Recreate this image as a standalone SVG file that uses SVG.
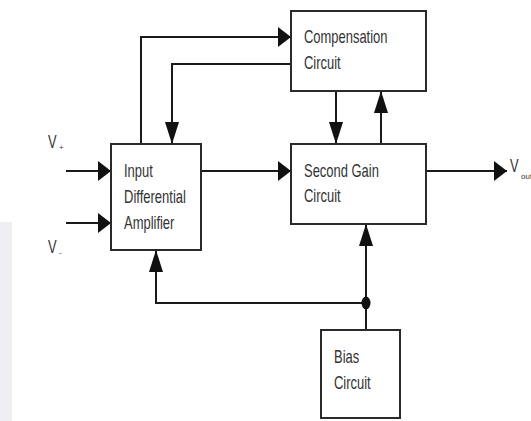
<svg xmlns="http://www.w3.org/2000/svg" width="531" height="421" viewBox="0 0 531 421">
  <style>
    .box { fill: #ffffff; stroke: #2a2a2a; stroke-width: 2; }
    .wire { fill: none; stroke: #1a1a1a; stroke-width: 2; }
    .lbl { font-family: "Liberation Sans", Arial, sans-serif; font-size: 18.5px; fill: #333333; }
    .sub { font-family: "Liberation Sans", Arial, sans-serif; font-size: 8px; fill: #333333; }
  </style>
  <defs>
    <marker id="arrH" viewBox="0 0 13 20" markerWidth="13" markerHeight="20" refX="13" refY="10" orient="auto" markerUnits="userSpaceOnUse">
      <path d="M0 0 L13 10 L0 20 Z" fill="#111"/>
    </marker>
    <marker id="arrV" viewBox="0 0 22 14" markerWidth="22" markerHeight="14" refX="22" refY="7" orient="auto" markerUnits="userSpaceOnUse">
      <path d="M0 0 L22 7 L0 14 Z" fill="#111"/>
    </marker>
  </defs>
  <rect width="531" height="421" fill="#ffffff"/>
  <rect x="0" y="222" width="12" height="199" fill="#eeeef3"/>

  <g id="connectors">
    <path class="wire" d="M141 144 V37 H291" marker-end="url(#arrH)"/>
    <path class="wire" d="M291 64 H172 V144" marker-end="url(#arrV)"/>
    <path class="wire" d="M336 91 V144" marker-end="url(#arrV)"/>
    <path class="wire" d="M381 144 V91" marker-end="url(#arrV)"/>
    <path class="wire" d="M201 171 H291" marker-end="url(#arrH)"/>
    <path class="wire" d="M66 171 H111" marker-end="url(#arrH)"/>
    <path class="wire" d="M66 223 H111" marker-end="url(#arrH)"/>
    <path class="wire" d="M426 171 H507" marker-end="url(#arrH)"/>
    <path class="wire" d="M366 330 V224" marker-end="url(#arrV)"/>
    <path class="wire" d="M366 303 H156 V250" marker-end="url(#arrV)"/>
    <ellipse cx="366" cy="303" rx="4.5" ry="6.5" fill="#111"/>
  </g>

  <g id="compensation">
    <rect class="box" x="291" y="11" width="135" height="80"/>
    <text class="lbl" x="304" y="43" textLength="83.5" lengthAdjust="spacingAndGlyphs">Compensation</text>
    <text class="lbl" x="304" y="69" textLength="36.7" lengthAdjust="spacingAndGlyphs">Circuit</text>
  </g>

  <g id="input">
    <rect class="box" x="111" y="144" width="90" height="106"/>
    <text class="lbl" x="124" y="177" textLength="28.8" lengthAdjust="spacingAndGlyphs">Input</text>
    <text class="lbl" x="124" y="203" textLength="61.9" lengthAdjust="spacingAndGlyphs">Differential</text>
    <text class="lbl" x="124" y="229" textLength="50.4" lengthAdjust="spacingAndGlyphs">Amplifier</text>
  </g>

  <g id="second">
    <rect class="box" x="291" y="144" width="135" height="80"/>
    <text class="lbl" x="304" y="177" textLength="74.9" lengthAdjust="spacingAndGlyphs">Second Gain</text>
    <text class="lbl" x="304" y="202" textLength="36.7" lengthAdjust="spacingAndGlyphs">Circuit</text>
  </g>

  <g id="bias">
    <rect class="box" x="321" y="330" width="79" height="88"/>
    <text class="lbl" x="334" y="363" textLength="25.2" lengthAdjust="spacingAndGlyphs">Bias</text>
    <text class="lbl" x="334" y="389" textLength="36.7" lengthAdjust="spacingAndGlyphs">Circuit</text>
  </g>

  <g id="vplus">
    <text class="lbl" x="48" y="148" textLength="8.6" lengthAdjust="spacingAndGlyphs">V</text>
    <text class="sub" x="59" y="150">+</text>
  </g>
  <g id="vminus">
    <text class="lbl" x="48" y="253" textLength="8.6" lengthAdjust="spacingAndGlyphs">V</text>
    <text class="sub" x="59" y="255">-</text>
  </g>
  <g id="vout">
    <text class="lbl" x="510" y="172" textLength="8.6" lengthAdjust="spacingAndGlyphs">V</text>
    <text class="sub" x="521" y="179">out</text>
  </g>
</svg>
